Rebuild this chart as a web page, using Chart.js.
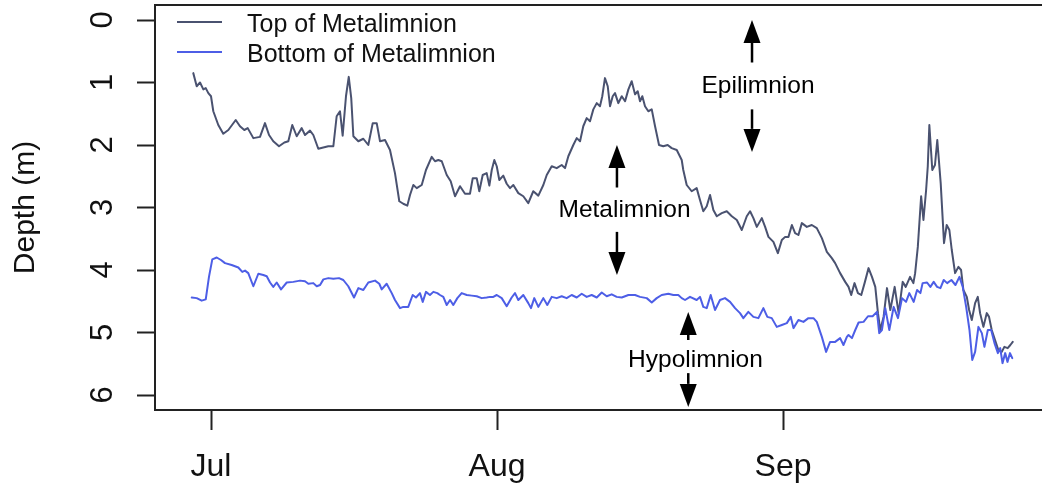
<!DOCTYPE html>
<html>
<head>
<meta charset="utf-8">
<script src="https://cdn.jsdelivr.net/npm/chart.js@4.4.1/dist/chart.umd.min.js"></script>
<style>
html, body { margin: 0; padding: 0; background: #fff; }
#wrap { width: 1042px; height: 491px; position: relative; }
</style>
</head>
<body>
<div id="wrap"><canvas id="myChart"></canvas></div>
<script>
// [days since Jul 1, depth in m]
var topSeries = [[-1.92,0.85],[-1.55,1.06],[-1.19,1.00],[-0.83,1.11],[-0.57,1.09],[-0.29,1.17],[0,1.22],[0.25,1.46],[0.79,1.68],[1.33,1.82],[1.88,1.76],[2.68,1.60],[3.14,1.70],[3.61,1.76],[3.98,1.73],[4.59,1.89],[5.31,1.87],[5.85,1.65],[6.29,1.84],[6.75,1.94],[7.37,2.02],[7.95,1.96],[8.38,1.94],[8.81,1.68],[9.29,1.86],[9.83,1.73],[10.19,1.84],[10.73,1.77],[11.09,1.84],[11.63,2.06],[12.17,2.04],[12.71,2.02],[13.26,2.02],[13.62,1.54],[13.98,1.46],[14.27,1.85],[14.63,1.22],[14.93,0.91],[15.2,1.25],[15.43,1.86],[15.97,1.94],[16.51,1.90],[17.05,2.00],[17.53,1.65],[17.96,1.65],[18.32,1.94],[18.86,1.92],[19.40,2.08],[19.94,2.45],[20.41,2.90],[20.84,2.94],[21.28,2.97],[21.57,2.80],[21.93,2.64],[22.30,2.69],[22.84,2.64],[23.30,2.40],[23.92,2.19],[24.28,2.26],[24.64,2.24],[25.01,2.26],[25.55,2.48],[25.98,2.58],[26.45,2.82],[26.99,2.66],[27.53,2.78],[28.07,2.78],[28.37,2.53],[28.80,2.53],[29.08,2.74],[29.45,2.48],[29.88,2.45],[30.17,2.65],[30.43,2.40],[30.71,2.24],[30.97,2.34],[31.25,2.56],[31.68,2.49],[32.05,2.62],[32.41,2.69],[32.77,2.64],[33.31,2.77],[33.85,2.82],[34.39,2.93],[34.93,2.74],[35.48,2.81],[36.02,2.64],[36.39,2.48],[36.93,2.34],[37.47,2.37],[38.01,2.32],[38.37,2.37],[38.73,2.18],[39.27,2.00],[39.64,1.89],[40.00,1.94],[40.35,1.70],[40.72,1.57],[41.08,1.62],[41.44,1.43],[41.81,1.33],[42.16,1.38],[42.41,1.22],[42.70,0.93],[43.00,1.06],[43.25,1.38],[43.54,1.22],[43.79,1.17],[44.15,1.33],[44.52,1.22],[44.88,1.30],[45.24,1.11],[45.60,0.98],[45.96,1.19],[46.25,1.14],[46.50,1.30],[46.75,1.22],[47.04,1.38],[47.40,1.46],[47.77,1.43],[48.13,1.70],[48.56,2.00],[49.02,2.02],[49.50,2.00],[49.93,2.05],[50.48,2.08],[51.02,2.24],[51.19,2.40],[51.56,2.64],[52.10,2.74],[52.64,2.69],[53.00,2.88],[53.36,3.06],[53.73,2.98],[54.09,2.80],[54.45,3.04],[54.82,3.14],[55.36,3.09],[55.90,3.06],[56.45,3.14],[56.99,3.20],[57.53,3.36],[58.07,3.14],[58.43,3.06],[58.79,3.17],[59.16,3.31],[59.70,3.17],[60.06,3.31],[60.42,3.47],[60.96,3.55],[61.44,3.73],[61.87,3.52],[62.23,3.47],[62.59,3.47],[62.96,3.28],[63.31,3.41],[63.67,3.44],[64.04,3.25],[64.58,3.31],[65.12,3.28],[65.66,3.33],[66.21,3.49],[66.75,3.71],[67.29,3.81],[67.65,3.89],[68.19,4.05],[68.74,4.19],[69.10,4.27],[69.39,4.40],[69.75,4.21],[70.12,4.37],[70.48,4.40],[70.84,4.21],[71.27,3.97],[71.64,4.11],[72.00,4.27],[72.29,4.69],[72.54,4.96],[72.90,4.75],[73.27,4.29],[73.63,4.64],[74.10,4.27],[74.53,4.69],[74.97,4.19],[75.30,4.27],[75.77,4.11],[76.13,4.21],[76.32,4.05],[76.61,3.63],[76.97,2.82],[77.22,3.20],[77.51,2.72],[77.69,2.34],[77.86,1.68],[78.18,2.40],[78.47,2.32],[78.72,1.92],[79.09,2.61],[79.45,3.57],[79.74,3.28],[80.03,3.36],[80.29,3.68],[80.65,4.05],[81.01,3.95],[81.30,4.00],[81.55,4.32],[81.92,4.43],[82.17,4.64],[82.46,4.80],[82.82,4.53],[83.11,4.43],[83.36,4.69],[83.72,4.91],[84.08,4.69],[84.33,4.75],[84.62,4.96],[84.98,5.12],[85.34,5.28],[85.71,5.31],[85.99,5.23],[86.35,5.25],[86.64,5.20],[86.90,5.15]]

var bottomSeries = [[-2.09,4.44],[-1.55,4.45],[-1.01,4.49],[-0.57,4.47],[-0.22,4.11],[0.14,3.83],[0.62,3.80],[1.08,3.84],[1.52,3.89],[2.24,3.92],[2.96,3.96],[3.39,4.03],[3.69,4.01],[4.04,4.05],[4.59,4.26],[5.13,4.06],[5.67,4.08],[6.04,4.10],[6.40,4.20],[6.75,4.27],[7.12,4.20],[7.59,4.31],[8.21,4.20],[8.92,4.19],[9.65,4.17],[10.19,4.18],[10.55,4.22],[11.09,4.21],[11.46,4.26],[11.82,4.24],[12.18,4.15],[12.72,4.13],[13.26,4.14],[13.87,4.13],[14.34,4.16],[14.88,4.26],[15.50,4.44],[15.97,4.29],[16.51,4.32],[17.05,4.20],[17.78,4.17],[18.24,4.22],[18.50,4.31],[19.04,4.22],[19.59,4.37],[19.94,4.48],[20.49,4.61],[20.84,4.59],[21.38,4.59],[21.86,4.40],[22.22,4.44],[22.65,4.37],[22.95,4.51],[23.30,4.35],[23.73,4.40],[24.10,4.35],[24.53,4.37],[24.82,4.40],[25.18,4.43],[25.55,4.56],[25.91,4.48],[26.26,4.56],[26.70,4.45],[27.17,4.37],[27.72,4.40],[28.26,4.41],[28.80,4.42],[29.34,4.45],[29.88,4.44],[30.24,4.43],[30.60,4.43],[30.97,4.40],[31.51,4.45],[32.05,4.58],[32.59,4.44],[32.95,4.37],[33.31,4.48],[33.85,4.40],[34.39,4.53],[34.68,4.61],[35.04,4.45],[35.48,4.59],[36.02,4.45],[36.45,4.56],[36.93,4.43],[37.47,4.45],[38.01,4.42],[38.55,4.45],[39.09,4.40],[39.64,4.44],[40.18,4.38],[40.72,4.43],[41.26,4.40],[41.81,4.44],[42.35,4.36],[42.89,4.42],[43.43,4.39],[43.97,4.43],[44.52,4.44],[45.24,4.40],[45.96,4.40],[46.50,4.43],[47.23,4.45],[47.77,4.52],[48.31,4.45],[48.85,4.40],[49.57,4.38],[50.11,4.40],[50.65,4.40],[51.02,4.45],[51.38,4.48],[51.92,4.43],[52.64,4.48],[53.00,4.43],[53.36,4.59],[53.73,4.61],[54.16,4.40],[54.63,4.64],[55.17,4.48],[55.71,4.45],[56.26,4.51],[56.80,4.61],[57.34,4.69],[57.70,4.77],[58.24,4.67],[58.79,4.75],[59.33,4.77],[59.87,4.61],[60.30,4.75],[60.78,4.77],[61.32,4.91],[61.87,4.88],[62.41,4.85],[62.84,4.75],[63.13,4.93],[63.67,4.80],[64.21,4.83],[64.75,4.77],[65.30,4.77],[65.66,4.83],[66.21,5.07],[66.67,5.31],[67.10,5.15],[67.65,5.15],[68.19,5.09],[68.55,5.20],[68.92,5.07],[69.10,5.04],[69.47,5.09],[69.83,4.96],[70.19,4.84],[70.73,4.83],[71.21,4.74],[71.71,4.74],[72.18,4.67],[72.43,5.01],[72.72,4.96],[73.08,4.61],[73.52,4.96],[73.99,4.59],[74.46,4.77],[74.90,4.45],[75.33,4.51],[75.69,4.37],[76.16,4.51],[76.53,4.32],[76.89,4.37],[77.13,4.21],[77.61,4.20],[77.97,4.27],[78.33,4.19],[78.70,4.27],[79.06,4.29],[79.42,4.16],[79.79,4.21],[80.25,4.16],[80.69,4.24],[81.12,4.11],[81.48,4.27],[81.85,4.59],[82.21,4.96],[82.51,5.44],[82.82,5.31],[83.18,4.91],[83.55,5.01],[83.83,5.23],[84.20,4.96],[84.56,4.96],[84.92,5.17],[85.29,5.33],[85.54,5.25],[85.79,5.49],[86.08,5.33],[86.33,5.47],[86.60,5.33],[86.85,5.41]]

var monthTicks = [0, 31, 62]
var monthLabels = ['Jul', 'Aug', 'Sep']
var depthTicks = [0, 1, 2, 3, 4, 5, 6]
var seriesLabels = ['Top of Metalimnion', 'Bottom of Metalimnion']
var seriesColors = ['#4a5270', '#4d5ee6']

// layer labels with arrows: arrow x (day), text centre (day), text baseline (depth), up arrow [tip, tail], down arrow [tail, tip]
var layerNotes = [
	{ text: 'Epilimnion', day: 58.64, textDay: 59.29, textDepth: 1.16, up: [0.0, 0.68], down: [1.43, 2.11] },
	{ text: 'Metalimnion', day: 44.0, textDay: 44.82, textDepth: 3.15, up: [2.0, 2.68], down: [3.39, 4.08] },
	{ text: 'Hypolimnion', day: 51.73, textDay: 52.51, textDepth: 5.55, up: [4.67, 5.12], down: [5.65, 6.19] }
]

var FONT = '"Liberation Sans", Arial, Helvetica, sans-serif'

function drawArrow (ctx, x, from, to) {
	var dir = to > from ? 1 : -1
	var head = 23
	var half = 8.5
	ctx.beginPath()
	ctx.moveTo(x, from)
	ctx.lineTo(x, to - dir * head)
	ctx.stroke()
	ctx.beginPath()
	ctx.moveTo(x, to)
	ctx.lineTo(x - half, to - dir * head)
	ctx.lineTo(x + half, to - dir * head)
	ctx.closePath()
	ctx.fill()
}

var decorations = {
	id: 'decorations',
	afterDraw (chart) {
		var ctx = chart.ctx
		var area = chart.chartArea
		var xs = chart.scales.x
		var ys = chart.scales.y
		ctx.save()

		// top of the frame
		ctx.strokeStyle = '#222'
		ctx.lineWidth = 2
		ctx.beginPath()
		ctx.moveTo(area.left - 1, area.top)
		ctx.lineTo(area.right, area.top)
		ctx.stroke()

		// rotated depth labels, like R's las=0
		ctx.fillStyle = '#111'
		ctx.font = '31px ' + FONT
		ctx.textAlign = 'center'
		ctx.textBaseline = 'alphabetic'
		depthTicks.forEach(v => {
			ctx.save()
			ctx.translate(112, ys.getPixelForValue(v))
			ctx.rotate(-Math.PI / 2)
			ctx.fillText(String(v), 0, 0)
			ctx.restore()
		})
		ctx.save()
		ctx.font = '30px ' + FONT
		ctx.translate(34, (area.top + area.bottom) / 2)
		ctx.rotate(-Math.PI / 2)
		ctx.fillText('Depth (m)', 0, 0)
		ctx.restore()

		// legend
		ctx.font = '25px ' + FONT
		ctx.textAlign = 'left'
		seriesLabels.forEach((label, i) => {
			var rowY = area.top + 17 + i * 30
			ctx.strokeStyle = seriesColors[i]
			ctx.lineWidth = 2
			ctx.beginPath()
			ctx.moveTo(area.left + 22, rowY)
			ctx.lineTo(area.left + 67, rowY)
			ctx.stroke()
			ctx.fillStyle = '#111'
			ctx.fillText(label, area.left + 92, rowY + 10)
		})

		// layer annotations
		ctx.font = '24.5px ' + FONT
		ctx.textAlign = 'center'
		ctx.fillStyle = '#000'
		ctx.strokeStyle = '#000'
		ctx.lineWidth = 2.5
		layerNotes.forEach(n => {
			var ax = xs.getPixelForValue(n.day)
			ctx.fillText(n.text, xs.getPixelForValue(n.textDay), ys.getPixelForValue(n.textDepth))
			drawArrow(ctx, ax, ys.getPixelForValue(n.up[1]), ys.getPixelForValue(n.up[0]))
			drawArrow(ctx, ax, ys.getPixelForValue(n.down[0]), ys.getPixelForValue(n.down[1]))
		})

		ctx.restore()
	}
}

var ctx = document.getElementById('myChart').getContext('2d')
var myChart = new Chart(ctx, {
	type: 'line',
	data: {
		datasets: [{
			label: seriesLabels[0],
			data: topSeries.map(p => ({ x: p[0], y: p[1] })),
			borderColor: seriesColors[0],
			borderWidth: 2,
			borderJoinStyle: 'round',
			borderCapStyle: 'round',
			pointRadius: 0,
			tension: 0,
			order: 2
		}, {
			label: seriesLabels[1],
			data: bottomSeries.map(p => ({ x: p[0], y: p[1] })),
			borderColor: seriesColors[1],
			borderWidth: 2,
			borderJoinStyle: 'round',
			borderCapStyle: 'round',
			pointRadius: 0,
			tension: 0,
			order: 1
		}]
	},
	options: {
		responsive: true,
		maintainAspectRatio: false,
		animation: false,
		layout: { padding: { top: 5, left: 0, right: 0, bottom: 0 } },
		plugins: {
			legend: { display: false },
			tooltip: { enabled: false }
		},
		scales: {
			x: {
				type: 'linear',
				min: -6.07,
				max: 90.07,
				afterBuildTicks: s => { s.ticks = monthTicks.map(v => ({ value: v })) },
				afterFit: s => { s.height = 81 },
				grid: { drawOnChartArea: false, drawTicks: true, tickLength: 20, tickColor: '#222', tickWidth: 2 },
				border: { color: '#222', width: 2 },
				ticks: {
					color: '#111',
					font: { family: FONT, size: 32 },
					padding: 18,
					maxRotation: 0,
					callback: v => monthLabels[monthTicks.indexOf(v)]
				}
			},
			y: {
				type: 'linear',
				reverse: true,
				min: -0.24,
				max: 6.24,
				afterBuildTicks: s => { s.ticks = depthTicks.map(v => ({ value: v })) },
				afterFit: s => { s.width = 155 },
				grid: { drawOnChartArea: false, drawTicks: true, tickLength: 18, tickColor: '#222', tickWidth: 2 },
				border: { color: '#222', width: 2 },
				ticks: { display: false }
			}
		}
	},
	plugins: [decorations]
})
</script>
</body>
</html>
